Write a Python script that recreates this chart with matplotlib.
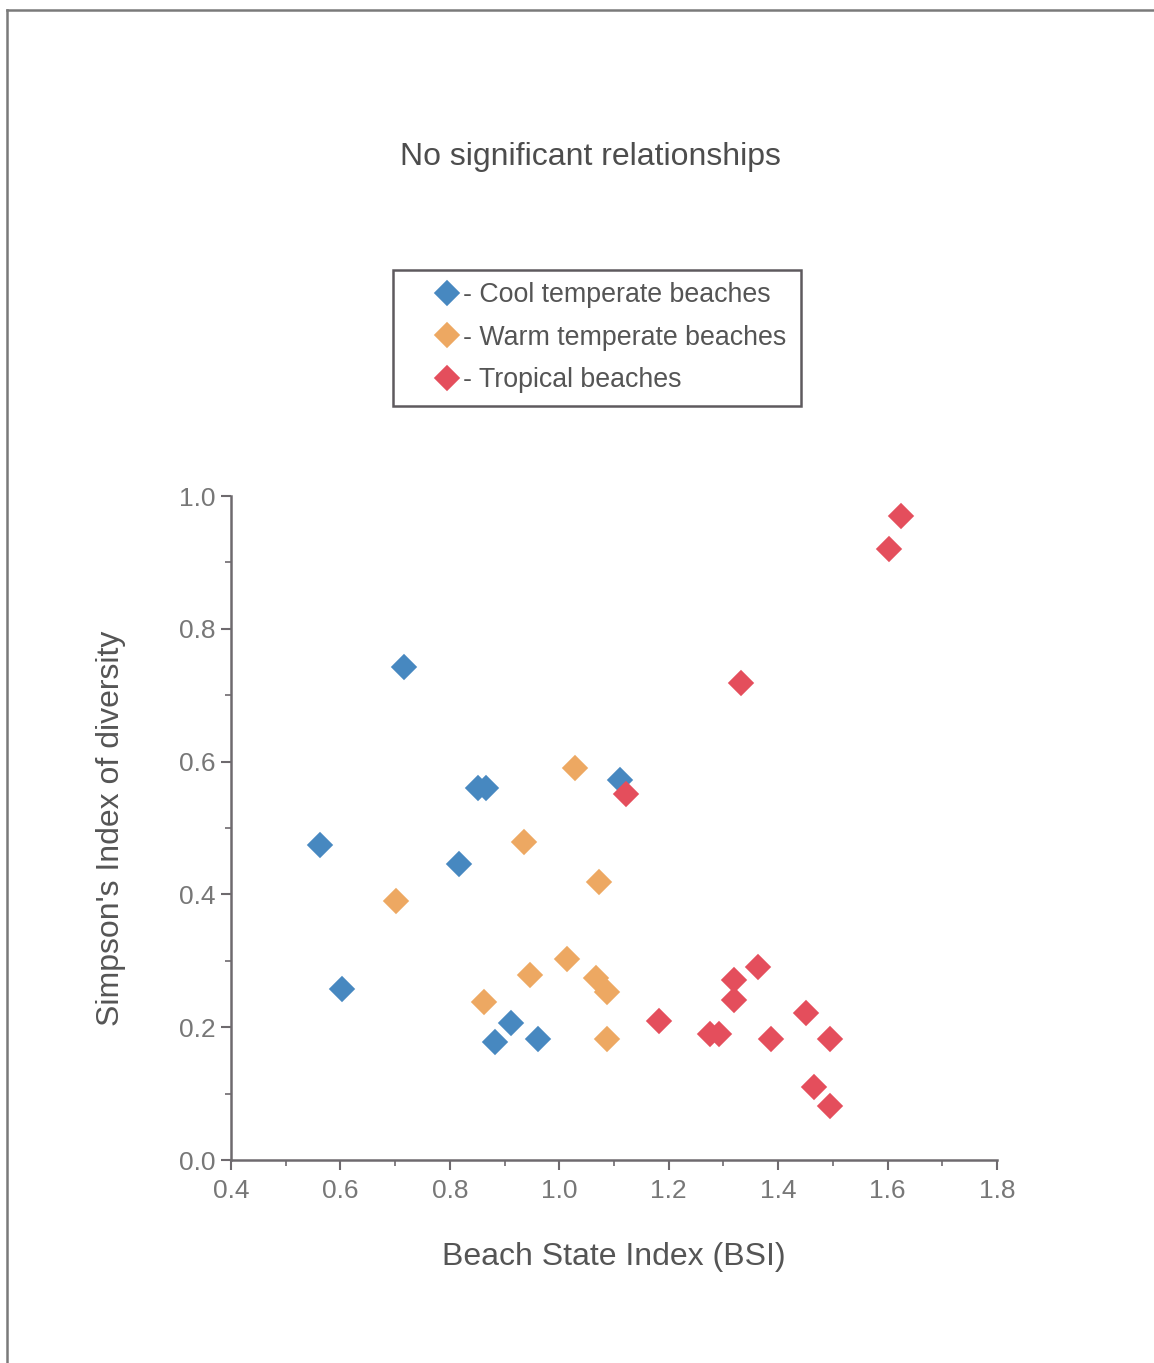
import matplotlib
matplotlib.use("Agg")
import matplotlib.pyplot as plt
from matplotlib.lines import Line2D
from matplotlib.patches import Rectangle
from matplotlib.ticker import MultipleLocator, FormatStrFormatter

plt.rcParams['font.family'] = ['Liberation Sans', 'DejaVu Sans']

# ---- data ----
cool_x = [0.563, 0.603, 0.716, 0.851, 0.866, 0.817, 0.883, 0.912, 0.961, 1.111]
cool_y = [0.474, 0.258, 0.742, 0.560, 0.560, 0.446, 0.178, 0.206, 0.182, 0.572]

warm_x = [0.702, 0.862, 0.936, 0.947, 1.014, 1.029, 1.073, 1.067, 1.087, 1.087]
warm_y = [0.390, 0.238, 0.479, 0.279, 0.303, 0.590, 0.419, 0.274, 0.253, 0.182]

trop_x = [1.122, 1.182, 1.276, 1.292, 1.319, 1.319, 1.363, 1.387, 1.451, 1.495,
          1.466, 1.495, 1.332, 1.603, 1.625]
trop_y = [0.551, 0.209, 0.190, 0.190, 0.271, 0.241, 0.291, 0.182, 0.221, 0.182,
          0.110, 0.081, 0.718, 0.920, 0.970]

series_labels = ["- Cool temperate beaches", "- Warm temperate beaches", "- Tropical beaches"]
series_colors = ["#4788c0", "#eda862", "#e44e5c"]

title_text = "No significant relationships"
x_label = "Beach State Index (BSI)"
y_label = "Simpson's Index of diversity"

# ---- figure ----
W, H = 1154, 1363
fig = plt.figure(figsize=(W / 100, H / 100), dpi=100)
fig.patch.set_facecolor("white")

ax = fig.add_axes([231 / W, 1 - 1160 / H, (997 - 231) / W, (1160 - 496) / H])

handles = []
for xs, ys, lab, col in zip([cool_x, warm_x, trop_x], [cool_y, warm_y, trop_y],
                            series_labels, series_colors):
    h, = ax.plot(xs, ys, linestyle="none", marker="D", ms=11.8, mfc=col, mec=col,
                 mew=1.2, label=lab, clip_on=False)
    handles.append(h)

ax.set_xlim(0.4, 1.8)
ax.set_ylim(0.0, 1.0)
for s in ["top", "right"]:
    ax.spines[s].set_visible(False)
for s in ["left", "bottom"]:
    ax.spines[s].set_color("#6e6a6e")
    ax.spines[s].set_linewidth(1.8)

ax.xaxis.set_major_locator(MultipleLocator(0.2))
ax.xaxis.set_minor_locator(MultipleLocator(0.1))
ax.yaxis.set_major_locator(MultipleLocator(0.2))
ax.yaxis.set_minor_locator(MultipleLocator(0.1))
ax.xaxis.set_major_formatter(FormatStrFormatter("%.1f"))
ax.yaxis.set_major_formatter(FormatStrFormatter("%.1f"))
ax.tick_params(axis="both", which="major", length=7, width=1.5, color="#6e6a6e",
               labelsize=19, labelcolor="#777777", direction="out")
ax.tick_params(axis="both", which="minor", length=4, width=1.2, color="#6e6a6e",
               direction="out")
ax.tick_params(axis="x", which="major", pad=7)
ax.tick_params(axis="y", which="major", pad=4)

ax.set_xlabel(x_label, fontsize=23, color="#555555", labelpad=28)
ax.set_ylabel(y_label, fontsize=23, color="#555555", labelpad=38)

fig.text(590 / W, 1 - 157 / H, title_text, ha="center", va="center",
         fontsize=23, color="#4d4d4d")

leg = fig.legend(handles=handles, labels=series_labels, loc="upper left",
                 bbox_to_anchor=(436 / W, 1 - 282 / H), frameon=False,
                 fontsize=19.3, handlelength=0.8, handletextpad=0.22, borderpad=0,
                 labelspacing=0.62, borderaxespad=0, markerscale=1.0)
for t in leg.get_texts():
    t.set_color("#555555")

# legend frame
fig.add_artist(Rectangle((393 / W, 1 - 406 / H), (801 - 393) / W, (406 - 270) / H,
                         transform=fig.transFigure, fill=False, edgecolor="#5e5a5e",
                         linewidth=1.8))

# outer frame (top and left edges visible in the reference)
fig.add_artist(Line2D([7 / W, 1.0], [1 - 10 / H, 1 - 10 / H], color="#7a7a7a", lw=1.8))
fig.add_artist(Line2D([7 / W, 7 / W], [0.0, 1 - 10 / H], color="#7a7a7a", lw=1.8))

fig.savefig("out.png", dpi=100, facecolor="white")
